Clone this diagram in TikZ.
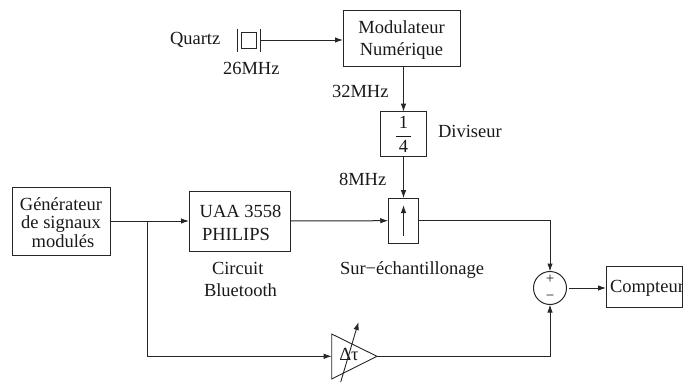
\documentclass[tikz,border=0pt]{standalone}
\usepackage{fontspec}
\setmainfont{Liberation Serif}
\usetikzlibrary{arrows.meta}
\tikzset{
  every node/.style={font=\fontsize{18.5}{21.5}\selectfont,inner sep=0pt,outer sep=0pt,text=black!90},
  box/.style={draw=black!85,line width=1pt,align=center},
  lbl/.style={anchor=base west},
  wire/.style={draw=black!85,line width=1pt},
  arr/.style={wire,-{Latex[length=8pt,width=5.5pt]}}
}
\begin{document}
\begin{tikzpicture}[x=1pt,y=-1pt]
\useasboundingbox (0,0) rectangle (683,383);
% blocks
\node[box,minimum width=117pt,minimum height=56pt] (mod) at (401.5,38) {\rule{0pt}{17pt}Modulateur\\Numérique};
\node[box,minimum width=45.5pt,minimum height=45pt] (div) at (403.5,134.2) {$\displaystyle\frac{\mbox{\,1\,}}{\mbox{\,4\,}}$};
\node[box,minimum width=98pt,minimum height=68pt,font=\fontsize{18.5}{18.5}\selectfont] (gen) at (61,221) {\rule{0pt}{16pt}Générateur\\de signaux\\\hspace{4pt}modulés};
\node[box,minimum width=101pt,minimum height=60pt] (uaa) at (239.5,221) {\rule{0pt}{17pt}\hspace{2pt}UAA 3558\\[1.5pt]\hspace{-7pt}PHILIPS};
\node[box,minimum width=30.5pt,minimum height=45pt] (ech) at (403.5,220.7) {};
\node[box,circle,minimum size=33pt] (som) at (550,288) {};
\node[box,minimum width=76pt,minimum height=41pt,anchor=west] (cpt) at (606,286.5) {};
\node[anchor=base west] (cpttxt) at (610,292) {Compteur};
\node[font=\fontsize{15}{15}\selectfont] (plus) at (550,279.5) {+};
\node[font=\fontsize{15}{15}\selectfont] (moins) at (550,297.5) {−};
% quartz
\node[box,minimum width=15pt,minimum height=16pt,line width=0.9pt] (xtal) at (249.2,40) {};
\coordinate (pl1a) at (237.7,29); \coordinate (pl1b) at (237.7,52);
\coordinate (pl2a) at (260.2,29); \coordinate (pl2b) at (260.2,52);
\coordinate (pl2) at (260.2,40);
\draw[wire,line width=0.9pt] (pl1a) -- (pl1b);
\draw[wire,line width=0.9pt] (pl2a) -- (pl2b);
% delay
\coordinate (dla) at (331.7,334); \coordinate (dlb) at (331.7,379); \coordinate (dlt) at (377,356.3);
\coordinate (dlin) at (331.7,356.3);
\draw[wire,line width=0.9pt] (dla) -- (dlt) -- (dlb) -- cycle;
\node (dltxt) at (349,354.5) {$\mbox{Δτ}$};
\coordinate (vara) at (340.7,382); \coordinate (varb) at (358.5,322);
\draw[arr,line width=0.9pt] (vara) -- (varb);
% sampler inner arrow
\coordinate (inna) at (403.5,236); \coordinate (innb) at (403.5,205);
\draw[arr] (inna) -- (innb);
% helpers
\coordinate (branch) at (147.5,221);
\coordinate (branchb) at (147.5,356.3);
\coordinate (corn1) at (550,220.7);
\coordinate (corn2) at (550,356.3);
\coordinate (somout) at (569,288);
% connectors
\draw[arr] (pl2) -- (pl2 -| mod.west);
\draw[arr] (mod.south -| div.north) -- (div.north);
\draw[arr] (div.south) -- (ech.north);
\draw[arr] (gen.east) -- (uaa.west);
\draw[arr] (uaa.east) -- (ech.west);
\draw[arr] (ech.east) -- (corn1) -- (som.north);
\draw[arr,line width=0.9pt] (branch) -- (branchb) -- (dlin);
\draw[arr] (dlt) -- (corn2) -- (som.south);
\draw[arr,line width=0.9pt] (somout) -- (cpt.west |- somout);
% labels
\node[lbl] (quartz) at (170,44) {Quartz};
\node[lbl] (f26) at (223,74) {26MHz};
\node[lbl] (f32) at (332,97) {32MHz};
\node[lbl] (f8) at (339,185) {8MHz};
\node[lbl] (diviseur) at (438,137) {Diviseur};
\node[lbl] (circ) at (212,274) {Circuit};
\node[lbl] (blue) at (204,296) {Bluetooth};
\node[lbl] (sur) at (340,274) {Sur−échantillonage};
\end{tikzpicture}
\end{document}
